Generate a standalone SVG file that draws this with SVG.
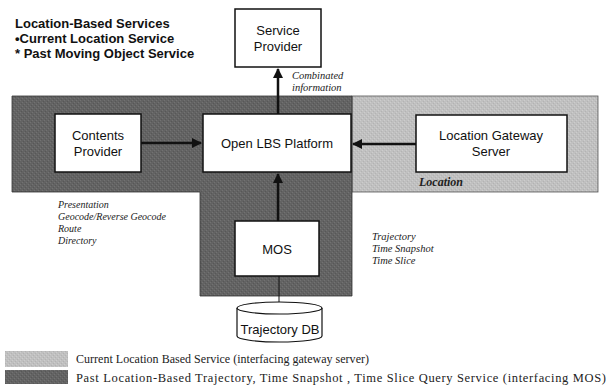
<svg xmlns="http://www.w3.org/2000/svg" width="610" height="391" viewBox="0 0 610 391">
<defs>
<marker id="ah" viewBox="0 0 10 10" refX="9" refY="5" markerWidth="4" markerHeight="4" orient="auto-start-reverse" markerUnits="strokeWidth">
<path d="M0,0 L10,5 L0,10 z" fill="#111"/>
</marker>
<pattern id="darkTex" width="4" height="4" patternUnits="userSpaceOnUse">
<rect width="4" height="4" fill="#636363"/>
<rect x="0" y="0" width="1" height="1" fill="#727272"/>
<rect x="2" y="2" width="1" height="1" fill="#727272"/>
<rect x="3" y="1" width="1" height="1" fill="#575757"/>
<rect x="1" y="3" width="1" height="1" fill="#575757"/>
</pattern>
<pattern id="lightTex" width="4" height="4" patternUnits="userSpaceOnUse">
<rect width="4" height="4" fill="#c0c0c0"/>
<rect x="0" y="0" width="1" height="1" fill="#cdcdcd"/>
<rect x="2" y="2" width="1" height="1" fill="#cdcdcd"/>
<rect x="3" y="1" width="1" height="1" fill="#b3b3b3"/>
<rect x="1" y="3" width="1" height="1" fill="#b3b3b3"/>
</pattern>
</defs>
<style>
.box{fill:#fff;stroke:#111;stroke-width:1.5}
.lbl{font-family:"Liberation Sans",Arial,sans-serif;font-size:13px;fill:#111;text-anchor:middle}
.title{font-family:"Liberation Sans",Arial,sans-serif;font-size:13px;font-weight:bold;fill:#111}
.it{font-family:"Liberation Serif","Times New Roman",serif;font-style:italic;font-size:10px;fill:#222}
.leg{font-family:"Liberation Serif","Times New Roman",serif;font-size:12px;fill:#222}
.con{stroke:#111;stroke-width:2.5;fill:none}
.thin{stroke:#111;stroke-width:1;fill:none}
</style>
<rect width="610" height="391" fill="#fff"/>

<g id="regions">
<rect x="352" y="96" width="246" height="96" fill="url(#lightTex)" stroke="#555" stroke-width="0.8"/>
<path d="M12,96 H352 V296 H200 V192 H12 Z" fill="url(#darkTex)" stroke="#333" stroke-width="0.8"/>
</g>

<g id="title">
<text class="title" x="15" y="28">Location-Based Services</text>
<text class="title" x="15" y="43">•Current Location Service</text>
<text class="title" x="15" y="58">* Past Moving Object Service</text>
</g>

<g id="connectors">
<line class="con" x1="278" y1="114" x2="278" y2="69" marker-end="url(#ah)"/>
<line class="con" x1="141" y1="143" x2="201" y2="143" marker-end="url(#ah)"/>
<line class="con" x1="416" y1="144" x2="353" y2="144" marker-end="url(#ah)"/>
<line class="con" x1="278" y1="221" x2="278" y2="174" marker-end="url(#ah)"/>
<line class="thin" x1="279" y1="276" x2="279" y2="302"/>
</g>

<g id="service-provider">
<rect class="box" x="235" y="9" width="86" height="58"/>
<text class="lbl" x="278" y="35">Service</text>
<text class="lbl" x="278" y="51">Provider</text>
</g>

<g id="contents-provider">
<rect class="box" x="55" y="114" width="86" height="58"/>
<text class="lbl" x="98" y="140">Contents</text>
<text class="lbl" x="98" y="156">Provider</text>
</g>

<g id="open-lbs">
<rect class="box" x="203" y="114" width="148" height="58"/>
<text class="lbl" x="277" y="148">Open LBS Platform</text>
</g>

<g id="location-gateway">
<rect class="box" x="416" y="115" width="151" height="57"/>
<text class="lbl" x="491" y="140">Location Gateway</text>
<text class="lbl" x="491" y="156">Server</text>
</g>

<g id="mos">
<rect class="box" x="235" y="221" width="84" height="55"/>
<text class="lbl" x="277" y="254">MOS</text>
</g>

<g id="trajectory-db">
<path d="M237,308 V336 A42.5,6 0 0 0 322,336 V308" fill="#fff" stroke="#111" stroke-width="1.2"/>
<ellipse cx="279.5" cy="308" rx="42.5" ry="6" fill="#fff" stroke="#111" stroke-width="1.2"/>
<text class="lbl" x="280" y="334">Trajectory DB</text>
</g>

<g id="annotations">
<text class="it" x="292" y="79" style="font-size:10.5px">Combinated</text>
<text class="it" x="292" y="91" style="font-size:10.5px">information</text>
<text class="it" x="419" y="186" style="font-weight:bold;font-size:12px">Location</text>
<text class="it" x="58" y="208">Presentation</text>
<text class="it" x="58" y="220">Geocode/Reverse Geocode</text>
<text class="it" x="58" y="232">Route</text>
<text class="it" x="58" y="244">Directory</text>
<text class="it" x="372" y="240" style="font-size:10.5px">Trajectory</text>
<text class="it" x="372" y="252" style="font-size:10.5px">Time  Snapshot</text>
<text class="it" x="372" y="264" style="font-size:10.5px">Time  Slice</text>
</g>

<g id="legend">
<rect x="5" y="351" width="63" height="16" fill="url(#lightTex)"/>
<rect x="5" y="370" width="63" height="14" fill="url(#darkTex)"/>
<text class="leg" x="76" y="363" textLength="293" lengthAdjust="spacing">Current Location Based Service (interfacing  gateway server)</text>
<text class="leg" x="76" y="382" style="font-size:12.5px" textLength="530" lengthAdjust="spacing">Past Location-Based Trajectory, Time  Snapshot , Time  Slice  Query Service (interfacing MOS)</text>
</g>
</svg>
